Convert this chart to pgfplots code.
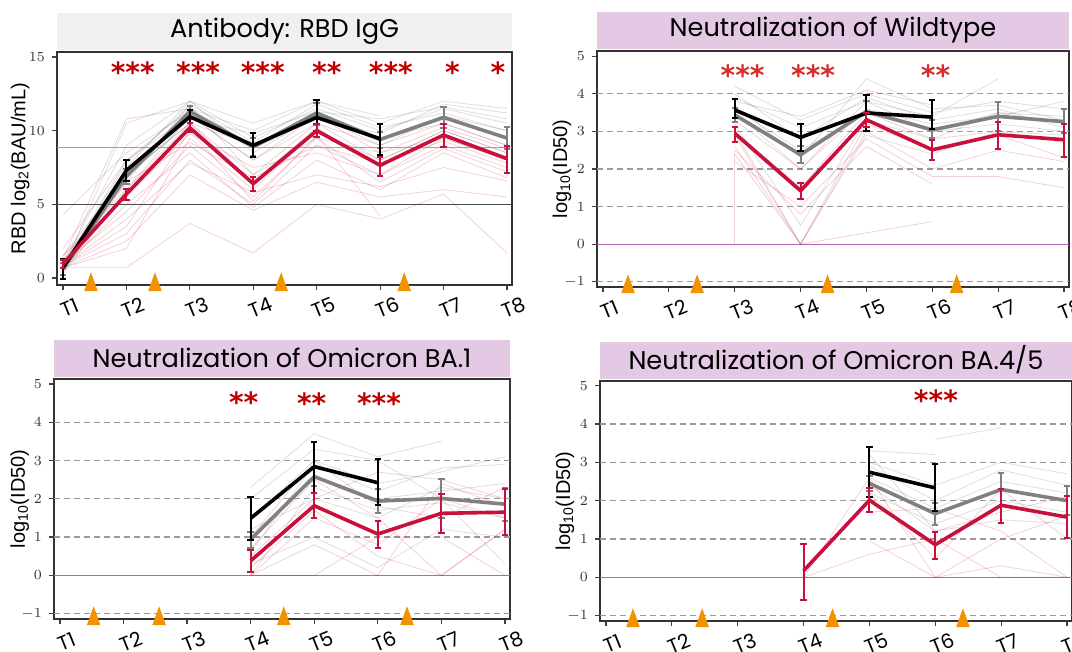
\documentclass[border=0pt]{standalone}
\usepackage{pgfplots}
\pgfplotsset{compat=1.18}
\usepackage{fontspec}
\setmainfont{Liberation Sans}
\newfontfamily\titlefont{Poppins}
\newfontfamily\starfont{DejaVu Sans}
\definecolor{crim}{RGB}{200,16,58}
\definecolor{tri}{RGB}{243,146,0}
\definecolor{lav}{RGB}{228,201,228}
\definecolor{lgray}{RGB}{240,240,240}
\definecolor{starred}{RGB}{192,0,0}
\definecolor{starred2}{RGB}{214,44,44}
\definecolor{purp}{RGB}{180,100,180}
\definecolor{gline}{RGB}{128,128,128}
\definecolor{orline}{RGB}{240,150,10}
\tikzset{stars/.style={font=\starfont\bfseries\fontsize{14}{14}\selectfont, text=starred, anchor=base, inner sep=0pt}}
\pgfplotsset{
  panel/.style={
    scale only axis, clip=false,
    xtick={1,2,3,4,5,6,7,8},
    xticklabels={T1,T2,T3,T4,T5,T6,T7,T8},
    tick pos=left, tick align=outside,
    major tick length=2.5pt,
    every tick/.style={black!75, line width=0.6pt},
    axis line style={black!80, line width=0.8pt},
    xticklabel style={font=\titlefont\fontsize{10}{11}\selectfont, rotate=22, anchor=center, yshift=-9.5pt},
    yticklabel style={font=\fontsize{7}{8}\selectfont, text=black!80},
    ylabel style={font=\fontsize{10}{12}\selectfont, anchor=center},
    title style={at={(axis description cs:0.5,1)}, anchor=south, yshift=-5pt, minimum height=18.5pt, inner sep=0pt, font=\titlefont\fontsize{12.8}{14}\selectfont},
  },
  mainred/.style={crim, line width=1.8pt, mark=none, error bars/.cd, y dir=both, y explicit, error bar style={line width=1pt}, error mark options={rotate=90, mark size=1.6pt, line width=1pt}},
  maingray/.style={gline, line width=1.8pt, mark=none, error bars/.cd, y dir=both, y explicit, error bar style={line width=1pt}, error mark options={rotate=90, mark size=1.6pt, line width=1pt}},
  mainblack/.style={black, line width=1.8pt, mark=none, error bars/.cd, y dir=both, y explicit, error bar style={line width=1pt}, error mark options={rotate=90, mark size=1.6pt, line width=1pt}},
  ir/.style={crim, opacity=0.2, line width=0.4pt, mark=none, forget plot},
  ig/.style={black, opacity=0.13, line width=0.4pt, mark=none, forget plot},
  tris/.style={only marks, mark=triangle*, mark size=3.6pt, color=tri, mark options={yscale=1.6}},
  gridl/.style={gline!80, dash pattern=on 3pt off 2pt, line width=0.6pt, forget plot},
}
\begin{document}
\begin{tikzpicture}
\path[use as bounding box] (0pt,0pt) rectangle (536pt,326pt);
\clip (0pt,0pt) rectangle (536pt,326pt);
% ---------------- Panel 1 ----------------
\begin{axis}[panel, at={(28.5pt,183.5pt)}, anchor=south west,
  width=227.5pt, height=116.5pt,
  xmin=0.905, xmax=8.08, ymin=-0.475, ymax=15.34,
  ytick={0,5,10,15},
  ylabel={RBD log\textsubscript{2}(BAU/mL)},
  ylabel style={at={(axis description cs:-0.081,0.5)}},
  title={Antibody: RBD IgG},
  title style={fill=lgray, minimum width=227.5pt},
]
\addplot[ir] coordinates {(1,0.8)(2,3.0)(3,8.0)(4,5.0)(5,9.0)(6,7.0)(7,9.5)(8,8.0)};
\addplot[ir] coordinates {(1,0.7)(2,2.0)(3,9.5)(4,6.0)(5,10.0)(6,8.0)(7,10.0)(8,8.5)};
\addplot[ir] coordinates {(1,1.5)(2,6.0)(3,10.5)(4,7.0)(5,10.5)(6,9.0)(7,10.5)(8,9.0)};
\addplot[ir] coordinates {(1,0.7)(2,0.7)(3,3.7)(4,1.7)(5,5.0)(6,4.0)(7,5.7)(8,1.7)};
\addplot[ir] coordinates {(1,2.0)(2,8.0)(3,11.0)(4,8.0)(5,11.0)(6,9.5)(7,11.0)(8,10.0)};
\addplot[ir] coordinates {(1,1.0)(2,4.5)(3,9.0)(4,5.5)(5,9.5)(6,6.5)(7,8.8)(8,7.2)};
\addplot[ir] coordinates {(1,0.7)(2,2.5)(3,7.0)(4,4.6)(5,6.5)(6,5.5)(7,6.0)(8,5.5)};
\addplot[ir] coordinates {(1,1.2)(2,7.0)(3,10.5)(4,6.5)(5,10.2)(6,7.5)(7,9.8)(8,8.0)};
\addplot[ir] coordinates {(1,0.9)(2,5.5)(3,9.8)(4,7.5)(5,8.5)(6,7.0)(7,9.0)(8,7.5)};
\addplot[ir] coordinates {(1,0.8)(2,3.5)(3,10.0)(4,5.2)(5,9.7)(6,4.2)};
\addplot[ir] coordinates {(1,1.3)(2,10.8)(3,11.5)(4,9.0)(5,11.0)(6,8.5)(7,10.2)(8,8.8)};
\addplot[ir] coordinates {(1,0.7)(2,5.0)(3,8.5)(4,4.8)(5,8.0)(6,6.0)(7,8.5)(8,6.8)};
\addplot[ir] coordinates {(1,1.1)(2,6.5)(3,9.2)(4,6.8)(5,9.0)(6,7.8)(7,9.3)(8,7.8)};
\addplot[ir] coordinates {(1,0.8)(2,4.0)(3,7.8)(4,5.8)(5,7.0)(6,6.2)(7,7.5)(8,6.6)};
\addplot[ig] coordinates {(1,0.5)(2,7.5)(3,12.0)(4,9.5)(5,11.5)(6,10.0)(7,11.5)(8,10.5)};
\addplot[ig] coordinates {(1,0.8)(2,8.0)(3,11.5)(4,10.0)(5,12.0)(6,10.5)(7,12.0)(8,11.5)};
\addplot[ig] coordinates {(1,1.0)(2,9.0)(3,12.0)(4,8.5)(5,11.0)(6,9.0)(7,11.0)(8,9.5)};
\addplot[ig] coordinates {(1,0.3)(2,6.0)(3,11.0)(4,8.0)(5,10.5)(6,8.0)(7,10.0)(8,8.5)};
\addplot[ig] coordinates {(1,0.6)(2,10.5)(3,12.0)(4,10.5)(5,12.0)(6,11.0)};
\addplot[ig] coordinates {(1,1.5)(2,7.0)(3,10.5)(4,9.0)(5,11.0)(6,9.5)(7,10.5)(8,9.0)};
\addplot[ig] coordinates {(1,0.5)(2,6.5)(3,11.8)(4,9.2)(5,11.8)(6,10.2)(7,11.2)(8,10.0)};
\addplot[ig] coordinates {(1,4.3)(2,8.5)(3,11.3)(4,8.8)(5,10.8)(6,9.8)(7,11.8)(8,11.2)};
\addplot[ig] coordinates {(1,0.7)(2,7.8)(3,11.7)(4,7.0)(5,9.5)(6,8.5)(7,9.5)(8,8.0)};
\addplot[ig] coordinates {(1,0.9)(2,6.8)(3,10.8)(4,9.8)(5,11.3)(6,10.8)(7,11.6)(8,10.8)};
\addplot[draw=orline, line width=0.7pt, forget plot] coordinates {(0.905,8.85)(8.08,8.85)};
\addplot[draw=black!70, line width=0.5pt, forget plot] coordinates {(0.905,5)(8.08,5)};
\addplot[maingray] coordinates {(1,0.6) += (0,0.4) -= (0,0.4) (2,6.9) += (0,0.5) -= (0,0.5) (3,11.3) += (0,0.4) -= (0,0.5) (4,8.9) += (0,0.6) -= (0,0.6) (5,11.2) += (0,0.7) -= (0,0.8) (6,9.4) += (0,0.5) -= (0,0.6) (7,10.9) += (0,0.7) -= (0,0.75) (8,9.5) += (0,0.77) -= (0,0.72)};
\addplot[mainblack] coordinates {(1,0.7) += (0,0.6) -= (0,0.75) (2,7.3) += (0,0.7) -= (0,0.7) (3,10.95) += (0,0.45) -= (0,0.4) (4,9.0) += (0,0.85) -= (0,0.8) (5,10.9) += (0,1.15) -= (0,0.9) (6,9.45) += (0,1.0) -= (0,1.1)};
\addplot[mainred] coordinates {(1,0.95) += (0,0.3) -= (0,0.3) (2,5.7) += (0,0.35) -= (0,0.4) (3,10.2) += (0,0.3) -= (0,0.3) (4,6.4) += (0,0.45) -= (0,0.5) (5,10.0) += (0,0.45) -= (0,0.4) (6,7.65) += (0,0.55) -= (0,0.7) (7,9.7) += (0,0.75) -= (0,0.8) (8,8.1) += (0,0.85) -= (0,0.95)};
\addplot[tris] coordinates {(1.44,-0.475)(2.45,-0.475)(4.44,-0.475)(6.38,-0.475)};
\node[stars] at (axis cs:2.10,13.25) {***};
\node[stars] at (axis cs:3.13,13.25) {***};
\node[stars] at (axis cs:4.15,13.25) {***};
\node[stars] at (axis cs:5.16,13.25) {**};
\node[stars] at (axis cs:6.17,13.25) {***};
\node[stars] at (axis cs:7.14,13.25) {*};
\node[stars] at (axis cs:7.86,13.25) {*};
\end{axis}
% ---------------- Panel 2 ----------------
\begin{axis}[panel, at={(298.5pt,182.5pt)}, anchor=south west,
  width=236pt, height=118pt,
  xmin=0.909, xmax=8.076, ymin=-1.14, ymax=5.14,
  ytick={-1,0,1,2,3,4,5},
  ylabel={log\textsubscript{10}(ID50)},
  ylabel style={at={(axis description cs:-0.074,0.5)}},
  title={Neutralization of Wildtype},
  title style={fill=lav, minimum width=236pt},
]
\addplot[gridl] coordinates {(0.909,-1)(8.076,-1)};
\addplot[gridl] coordinates {(0.909,1)(8.076,1)};
\addplot[gridl] coordinates {(0.909,2)(8.076,2)};
\addplot[gridl] coordinates {(0.909,3)(8.076,3)};
\addplot[gridl] coordinates {(0.909,4)(8.076,4)};
\addplot[purp, line width=0.6pt, forget plot] coordinates {(0.909,0)(8.076,0)};
\addplot[ir] coordinates {(3,2.4)(4,0)(5,3.0)(6,2.0)(7,2.5)(8,2.2)};
\addplot[ir] coordinates {(3,3.0)(4,1.5)(5,3.5)(6,2.8)(7,3.0)(8,2.7)};
\addplot[ir] coordinates {(3,2.6)(4,0)(5,0.3)(6,0.6)};
\addplot[ir] coordinates {(3,3.3)(4,2.0)(5,3.8)(6,3.0)(7,3.5)(8,3.2)};
\addplot[ir] coordinates {(3,2.2)(4,1.0)(5,2.8)(6,1.8)(7,1.8)(8,1.5)};
\addplot[ir] coordinates {(3,3.8)(4,3.4)(5,4.1)(6,3.7)};
\addplot[ir] coordinates {(3,2.9)(4,0)(5,3.2)(6,2.5)(7,2.9)(8,2.3)};
\addplot[ir] coordinates {(3,2.5)(4,0.8)(5,2.6)(6,1.6)};
\addplot[ir] coordinates {(3,0)(3,2.4)};
\addplot[ig] coordinates {(3,4.2)(4,3.3)(5,4.0)(6,3.5)(7,3.8)(8,3.6)};
\addplot[ig] coordinates {(3,3.6)(4,2.5)(5,3.5)(6,3.0)(7,3.2)(8,3.0)};
\addplot[ig] coordinates {(3,3.9)(4,3.1)(5,3.8)(6,3.4)(7,4.4)};
\addplot[ig] coordinates {(3,3.2)(4,0.5)(5,3.3)(6,2.8)(7,3.5)(8,3.4)};
\addplot[ig] coordinates {(3,3.5)(4,2.0)(5,3.6)(6,3.2)(7,3.4)(8,3.8)};
\addplot[ig] coordinates {(3,4.0)(4,2.8)(5,3.9)(6,3.3)(7,3.6)(8,3.1)};
\addplot[ig] coordinates {(3,3.0)(4,0)(5,2.9)(6,2.4)(7,3.0)(8,2.9)};
\addplot[ig] coordinates {(3,3.7)(4,2.3)(5,4.4)(6,3.6)(7,3.7)(8,3.3)};
\addplot[maingray] coordinates {(3,3.44) += (0,0.18) -= (0,0.18) (4,2.38) += (0,0.22) -= (0,0.23) (5,3.53) += (0,0.27) -= (0,0.27) (6,3.04) += (0,0.27) -= (0,0.22) (7,3.40) += (0,0.37) -= (0,0.38) (8,3.26) += (0,0.33) -= (0,0.31)};
\addplot[mainblack] coordinates {(3,3.57) += (0,0.29) -= (0,0.22) (4,2.84) += (0,0.36) -= (0,0.37) (5,3.49) += (0,0.47) -= (0,0.49) (6,3.38) += (0,0.46) -= (0,0.32)};
\addplot[mainred] coordinates {(3,2.95) += (0,0.16) -= (0,0.22) (4,1.42) += (0,0.2) -= (0,0.21) (5,3.31) += (0,0.18) -= (0,0.18) (6,2.51) += (0,0.27) -= (0,0.28) (7,2.91) += (0,0.35) -= (0,0.37) (8,2.78) += (0,0.42) -= (0,0.45)};
\addplot[tris] coordinates {(1.38,-1.14)(2.43,-1.14)(4.41,-1.14)(6.37,-1.14)};
\node[stars, text=starred2] at (axis cs:3.12,4.22) {***};
\node[stars, text=starred2] at (axis cs:4.19,4.22) {***};
\node[stars, text=starred2] at (axis cs:6.05,4.22) {**};
\end{axis}
% ---------------- Panel 3 ----------------
\begin{axis}[panel, at={(27pt,16.5pt)}, anchor=south west,
  width=228pt, height=120pt,
  xmin=0.906, xmax=8.08, ymin=-1.14, ymax=5.13,
  ytick={-1,0,1,2,3,4,5},
  ylabel={log\textsubscript{10}(ID50)},
  ylabel style={at={(axis description cs:-0.075,0.5)}},
  title={Neutralization of Omicron BA.1},
  title style={fill=lav, minimum width=228pt},
]
\addplot[gridl] coordinates {(0.906,-1)(8.08,-1)};
\addplot[gridl] coordinates {(0.906,1)(8.08,1)};
\addplot[gridl] coordinates {(0.906,2)(8.08,2)};
\addplot[gridl] coordinates {(0.906,3)(8.08,3)};
\addplot[gridl] coordinates {(0.906,4)(8.08,4)};
\addplot[purp, line width=0.6pt, forget plot] coordinates {(0.906,0)(8.08,0)};
\addplot[ir] coordinates {(4,0)(5,1.5)(6,0.8)(7,2.0)(8,1.5)};
\addplot[ir] coordinates {(4,0.7)(5,2.5)(6,1.5)(7,0)(8,1.2)};
\addplot[ir] coordinates {(4,0)(5,0.8)(6,0)(7,2.4)(8,1.8)};
\addplot[ir] coordinates {(4,0.5)(5,2.0)(6,2.7)(7,2.5)(8,2.0)};
\addplot[ir] coordinates {(4,0)(5,0)(6,1.0)(7,1.0)(8,0)};
\addplot[ir] coordinates {(4,1.0)(5,3.0)(6,1.8)(7,1.5)(8,2.3)};
\addplot[ir] coordinates {(4,0.2)(5,1.7)(6,0.5)(7,0)(8,1.2)};
\addplot[ig] coordinates {(4,2.3)(5,3.7)(6,3.1)(7,3.5)};
\addplot[ig] coordinates {(4,1.5)(5,3.0)(6,2.4)(7,2.7)(8,3.1)};
\addplot[ig] coordinates {(4,1.0)(5,2.6)(6,2.0)(7,2.2)(8,2.4)};
\addplot[ig] coordinates {(4,0)(5,2.3)(6,1.7)(7,1.9)(8,1.5)};
\addplot[ig] coordinates {(4,0.6)(5,2.9)(6,2.2)(7,2.8)(8,2.9)};
\addplot[ig] coordinates {(4,2.0)(5,3.3)(6,3.0)(7,2.0)(8,0.3)};
\addplot[ig] coordinates {(4,0.3)(5,1.0)(6,0.2)(7,1.2)(8,1.0)};
\addplot[ig] coordinates {(4,1.2)(5,2.0)(6,1.5)(7,2.3)(8,2.0)};
\addplot[maingray] coordinates {(4,0.94) += (0,0.2) -= (0,0.23) (5,2.58) += (0,0.25) -= (0,0.25) (6,1.94) += (0,0.31) -= (0,0.3) (7,2.01) += (0,0.5) -= (0,0.5) (8,1.86) += (0,0.41) -= (0,0.43)};
\addplot[mainblack] coordinates {(4,1.49) += (0,0.55) -= (0,0.57) (5,2.84) += (0,0.64) -= (0,0.68) (6,2.42) += (0,0.62) -= (0,0.58)};
\addplot[mainred] coordinates {(4,0.38) += (0,0.28) -= (0,0.28) (5,1.82) += (0,0.32) -= (0,0.33) (6,1.08) += (0,0.35) -= (0,0.37) (7,1.62) += (0,0.51) -= (0,0.52) (8,1.65) += (0,0.6) -= (0,0.6)};
\addplot[tris] coordinates {(1.53,-1.14)(2.56,-1.14)(4.52,-1.14)(6.46,-1.14)};
\node[stars] at (axis cs:3.89,4.25) {**};
\node[stars] at (axis cs:4.96,4.22) {**};
\node[stars] at (axis cs:6.02,4.22) {***};
\end{axis}
% ---------------- Panel 4 ----------------
\begin{axis}[panel, at={(300pt,15.5pt)}, anchor=south west,
  width=236pt, height=120pt,
  xmin=0.909, xmax=8.076, ymin=-1.14, ymax=5.12,
  ytick={-1,0,1,2,3,4,5},
  ylabel={log\textsubscript{10}(ID50)},
  ylabel style={at={(axis description cs:-0.074,0.5)}},
  title={Neutralization of Omicron BA.4/5},
  title style={fill=lav, minimum width=236pt},
]
\addplot[gridl] coordinates {(0.909,-1)(8.076,-1)};
\addplot[gridl] coordinates {(0.909,1)(8.076,1)};
\addplot[gridl] coordinates {(0.909,2)(8.076,2)};
\addplot[gridl] coordinates {(0.909,3)(8.076,3)};
\addplot[gridl] coordinates {(0.909,4)(8.076,4)};
\addplot[purp, line width=0.6pt, forget plot] coordinates {(0.909,0)(8.076,0)};
\addplot[ir] coordinates {(4,0)(5,2.6)(6,0)(7,1.0)(8,1.6)};
\addplot[ir] coordinates {(4,0)(5,0.6)(6,1.0)(7,0)(8,0)};
\addplot[ir] coordinates {(5,2.2)(6,0.5)(7,2.3)(8,1.0)};
\addplot[ir] coordinates {(5,1.7)(6,1.8)(7,1.2)(8,0)};
\addplot[ir] coordinates {(5,3.2)(6,1.2)(7,1.7)(8,2.1)};
\addplot[ir] coordinates {(5,0.95)(6,0)(7,0.3)(8,0)};
\addplot[ig] coordinates {(5,3.3)(6,3.2)};
\addplot[ig] coordinates {(5,3.0)(6,2.4)(7,3.0)(8,2.7)};
\addplot[ig] coordinates {(5,2.6)(6,1.8)(7,2.5)(8,2.2)};
\addplot[ig] coordinates {(5,2.2)(6,1.4)(7,2.0)(8,1.7)};
\addplot[ig] coordinates {(6,3.6)(7,3.9)};
\addplot[ig] coordinates {(5,2.9)(6,2.0)(7,2.8)(8,2.4)};
\addplot[ig] coordinates {(5,2.4)(6,1.2)(7,1.5)(8,1.4)};
\addplot[maingray] coordinates {(5,2.45) += (0,0.2) -= (0,0.2) (6,1.66) += (0,0.28) -= (0,0.29) (7,2.29) += (0,0.42) -= (0,0.42) (8,2.0) += (0,0.38) -= (0,0.37)};
\addplot[mainblack] coordinates {(5,2.74) += (0,0.66) -= (0,0.65) (6,2.33) += (0,0.63) -= (0,0.61)};
\addplot[mainred] coordinates {(4,0.17) += (0,0.70) -= (0,0.75) (5,2.01) += (0,0.32) -= (0,0.32) (6,0.85) += (0,0.33) -= (0,0.38) (7,1.88) += (0,0.43) -= (0,0.47) (8,1.57) += (0,0.54) -= (0,0.55)};
\addplot[tris] coordinates {(1.41,-1.14)(2.46,-1.14)(4.44,-1.14)(6.42,-1.14)};
\node[stars] at (axis cs:6.01,4.36) {***};
\end{axis}
\end{tikzpicture}
\end{document}
